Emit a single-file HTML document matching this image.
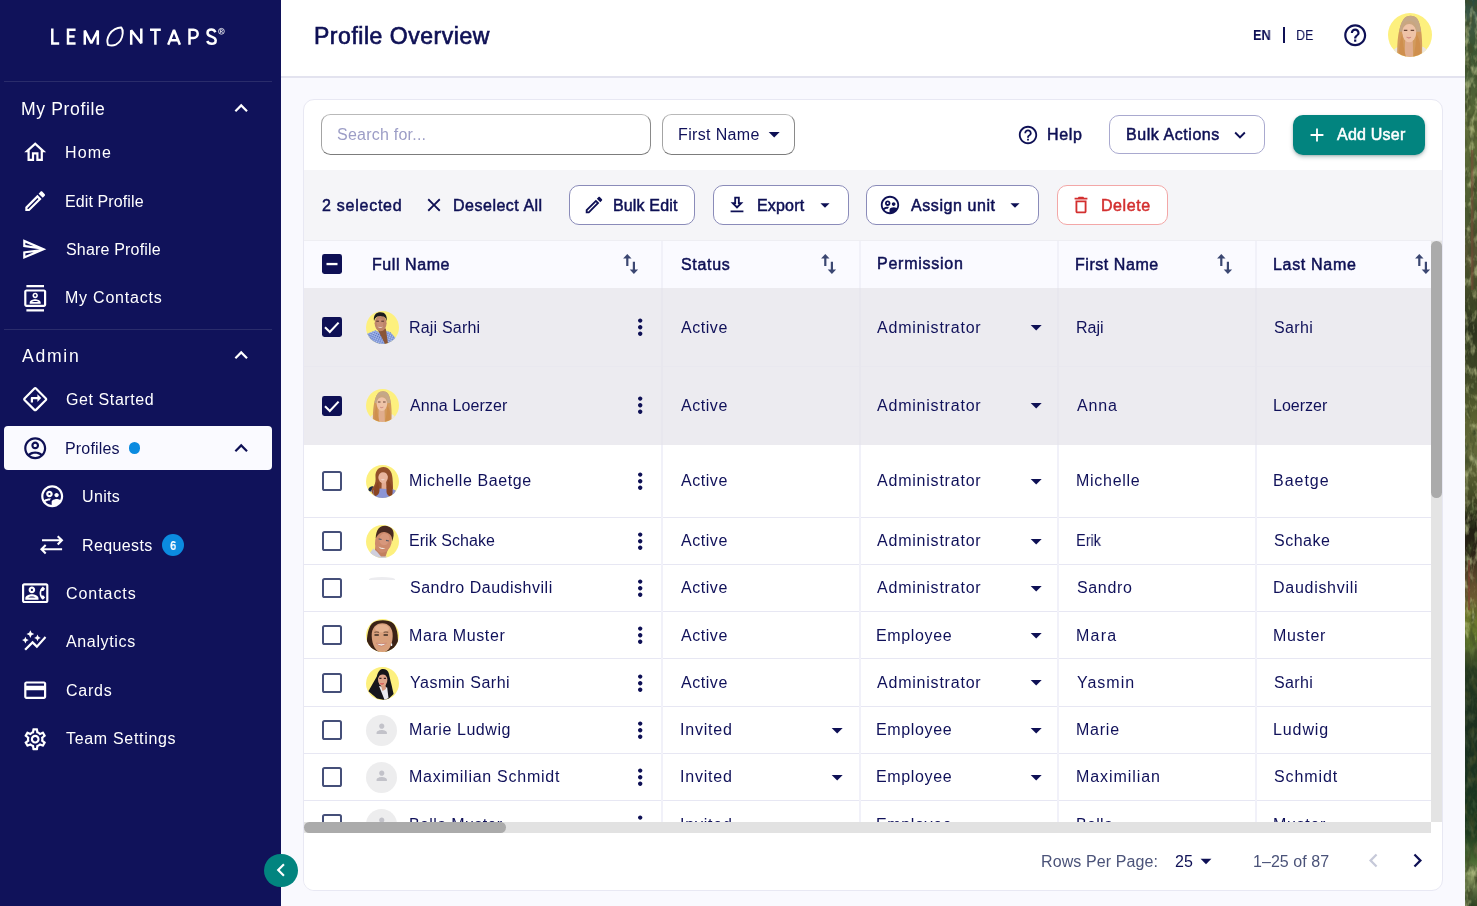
<!DOCTYPE html>
<html><head><meta charset="utf-8"><title>Profile Overview</title>
<style>
html,body{margin:0;padding:0;}
body{width:1477px;height:906px;overflow:hidden;position:relative;background:#f9f9fe;font-family:"Liberation Sans",sans-serif;}
.t{position:absolute;white-space:nowrap;line-height:24px;height:24px;will-change:transform;}
svg{display:block;overflow:visible}
</style></head><body>
<div style="position:absolute;left:281px;top:0px;width:1184px;height:76px;background:#fff;"></div>
<div style="position:absolute;left:281px;top:76px;width:1184px;height:2px;background:#e3e3ef;"></div>
<div style="position:absolute;left:303px;top:99px;width:1140px;height:791.5px;background:#fff;border:1px solid #e8e8f3;border-radius:11px;box-sizing:border-box;"></div>
<div style="position:absolute;left:304px;top:170px;width:1138px;height:70px;background:#f5f5f8;"></div>
<div style="position:absolute;left:304px;top:240px;width:1138px;height:1.2px;background:#eeeef3;"></div>
<div style="position:absolute;left:304px;top:241.2px;width:1126.5px;height:46.8px;background:#fafaff;"></div>
<div style="position:absolute;left:304px;top:288px;width:1127px;height:156.5px;background:#ecebf0;"></div>
<div style="position:absolute;left:304px;top:365.5px;width:1127px;height:1px;background:#e9e8ef;"></div>
<div style="position:absolute;left:304px;top:516.5px;width:1127px;height:1.2px;background:#e7e7f3;"></div>
<div style="position:absolute;left:304px;top:563.7px;width:1127px;height:1.2px;background:#e7e7f3;"></div>
<div style="position:absolute;left:304px;top:610.9px;width:1127px;height:1.2px;background:#e7e7f3;"></div>
<div style="position:absolute;left:304px;top:658.0px;width:1127px;height:1.2px;background:#e7e7f3;"></div>
<div style="position:absolute;left:304px;top:706.1px;width:1127px;height:1.2px;background:#e7e7f3;"></div>
<div style="position:absolute;left:304px;top:752.8px;width:1127px;height:1.2px;background:#e7e7f3;"></div>
<div style="position:absolute;left:304px;top:800.0px;width:1127px;height:1.2px;background:#e7e7f3;"></div>
<div style="position:absolute;left:660.7px;top:241px;width:2px;height:47px;background:#f1f1f9;"></div>
<div style="position:absolute;left:660.7px;top:288px;width:2px;height:156.5px;background:#e8e7ee;"></div>
<div style="position:absolute;left:660.7px;top:444.5px;width:2px;height:378px;background:#f1f1f9;"></div>
<div style="position:absolute;left:858.7px;top:241px;width:2px;height:47px;background:#f1f1f9;"></div>
<div style="position:absolute;left:858.7px;top:288px;width:2px;height:156.5px;background:#e8e7ee;"></div>
<div style="position:absolute;left:858.7px;top:444.5px;width:2px;height:378px;background:#f1f1f9;"></div>
<div style="position:absolute;left:1056.8999999999999px;top:241px;width:2px;height:47px;background:#f1f1f9;"></div>
<div style="position:absolute;left:1056.8999999999999px;top:288px;width:2px;height:156.5px;background:#e8e7ee;"></div>
<div style="position:absolute;left:1056.8999999999999px;top:444.5px;width:2px;height:378px;background:#f1f1f9;"></div>
<div style="position:absolute;left:1254.8999999999999px;top:241px;width:2px;height:47px;background:#f1f1f9;"></div>
<div style="position:absolute;left:1254.8999999999999px;top:288px;width:2px;height:156.5px;background:#e8e7ee;"></div>
<div style="position:absolute;left:1254.8999999999999px;top:444.5px;width:2px;height:378px;background:#f1f1f9;"></div>
<svg style="position:absolute;left:1465px;top:0" width="12" height="906" viewBox="0 0 12 906"><defs>
<linearGradient id="fg" x1="0" y1="0" x2="0" y2="1">
<stop offset="0" stop-color="#2c4a3c"/><stop offset=".02" stop-color="#3f5a48"/><stop offset=".05" stop-color="#3a5432"/><stop offset=".10" stop-color="#4c6036"/><stop offset=".14" stop-color="#5f6c38"/><stop offset=".19" stop-color="#566534"/><stop offset=".24" stop-color="#4a5830"/><stop offset=".28" stop-color="#565432"/><stop offset=".32" stop-color="#444c28"/><stop offset=".36" stop-color="#2a321c"/><stop offset=".41" stop-color="#3d4524"/><stop offset=".46" stop-color="#59602f"/><stop offset=".50" stop-color="#62683a"/><stop offset=".54" stop-color="#4c5229"/><stop offset=".58" stop-color="#201f12"/><stop offset=".61" stop-color="#2a2416"/><stop offset=".64" stop-color="#5e4a2c"/><stop offset=".66" stop-color="#6a5a30"/><stop offset=".68" stop-color="#6e7a2c"/><stop offset=".71" stop-color="#59702a"/><stop offset=".74" stop-color="#24381f"/><stop offset=".80" stop-color="#1c301f"/><stop offset=".86" stop-color="#1a3320"/><stop offset=".92" stop-color="#1d3a1e"/><stop offset=".95" stop-color="#4a6a32"/><stop offset=".97" stop-color="#80905a"/><stop offset="1" stop-color="#2a4020"/></linearGradient>
<filter id="fn" x="0" y="0" width="100%" height="100%"><feTurbulence type="fractalNoise" baseFrequency=".16 .07" numOctaves="3" seed="7"/><feColorMatrix type="matrix" values="0 0 0 0 .05  0 0 0 0 .07  0 0 0 0 .02  2.600 0 0 0 -1.150"/></filter>
<filter id="fl" x="0" y="0" width="100%" height="100%"><feTurbulence type="fractalNoise" baseFrequency=".2 .09" numOctaves="3" seed="3"/><feColorMatrix type="matrix" values="0 0 0 0 .78  0 0 0 0 .82  0 0 0 0 .42  0 3 0 0 -1.450"/></filter>
</defs><rect width="12" height="906" fill="url(#fg)"/><rect width="12" height="906" filter="url(#fn)"/><rect width="12" height="640" filter="url(#fl)" opacity=".48"/><rect y="640" width="12" height="225" filter="url(#fl)" opacity=".12"/><rect y="865" width="12" height="41" filter="url(#fl)" opacity=".5"/>
<rect x="6" y="150" width="2.500" height="140" fill="#7a4a38" opacity=".55"/><rect x="3" y="560" width="2" height="50" fill="#8a3a30" opacity=".5"/></svg>
<div style="position:absolute;left:0px;top:0px;width:281px;height:906px;background:#10125a;"></div>
<div style="position:absolute;left:4px;top:81px;width:268px;height:1px;background:#2a2c6b;"></div>
<div style="position:absolute;left:4px;top:328.5px;width:268px;height:1px;background:#2a2c6b;"></div>
<svg style="position:absolute;left:0;top:0" width="281" height="70" viewBox="0 0 281 70" fill="none" stroke="#fff" stroke-width="2.5" stroke-linejoin="miter">
<path d="M52.3 28.5V43.6H59.2"/>
<path d="M75.6 29.7H68V43.6H75.6M68 36.5H74.6"/>
<path d="M84.8 44.8V30.5L91.3 43.2L97.8 30.5V44.8" stroke-linejoin="bevel"/>
<path d="M121.3 27.5C117.5 27.3 112.200 29.800 109.500 34.300C107.300 38 106.900 42 108 44.800C110.200 45.600 113.500 45.700 115.800 44.600C119.500 42.600 122.300 38 122.700 33.500C122.900 31 122.500 28.800 121.300 27.500Z" stroke-width="1.900" stroke-linejoin="round"/>
<path d="M131.2 44.8V30.2L141.3 43.2V28.5" stroke-linejoin="bevel"/>
<path d="M150 29.7H160.8M155.4 29.7V44.8"/>
<path d="M168.2 44.8L174 30L179.9 44.8M170.4 40.3H177.6" stroke-linejoin="bevel"/>
<path d="M189.5 44.8V29.7H193.6A4.1 4.1 0 0 1 193.6 37.9H189.5"/>
<path d="M215.4 32.2C214.6 30.4 213.2 29.6 211.4 29.6C209 29.6 207.5 31 207.5 32.9C207.5 35.2 209.4 35.9 211.6 36.6C213.9 37.3 215.7 38.200 215.7 40.400C215.7 42.500 214 43.800 211.700 43.800C209.500 43.800 207.900 42.800 207.200 41"/>
<circle cx="221.400" cy="31.300" r="2.900" stroke-width=".8"/>
<path d="M220.400 33V29.700H221.600A.9.9 0 0 1 221.600 31.500H220.400M221.500 31.500L222.600 33" stroke-width=".7"/>
</svg>
<div style="position:absolute;left:4.2px;top:426.2px;width:267.8px;height:43.8px;background:#fafaff;border-radius:4px;"></div>
<svg style="position:absolute;left:21.50px;top:138.70px;" width="26.4" height="26.4" viewBox="0 0 24 24"><path fill="#ffffff" d="M12 5.69l5 4.5V18h-2v-6H9v6H7v-7.81l5-4.5M12 3L2 12h3v8h6v-6h2v6h6v-8h3L12 3z"/></svg>
<svg style="position:absolute;left:21.50px;top:187.50px;" width="26.4" height="26.4" viewBox="0 0 24 24"><path fill="#ffffff" d="M14.06 9.02l.92.92L5.92 19H5v-.92l9.06-9.06M17.66 3c-.25 0-.51.1-.7.29l-1.83 1.83 3.75 3.75 1.83-1.83c.39-.39.39-1.02 0-1.41l-2.34-2.34c-.2-.2-.45-.29-.71-.29zm-3.6 3.19L3 17.25V21h3.75L17.81 9.94l-3.75-3.75z"/></svg>
<svg style="position:absolute;left:21.00px;top:235.90px;" width="26.4" height="26.4" viewBox="0 0 24 24"><path fill="#ffffff" d="M4.01 6.03l7.51 3.22-7.52-1 .01-2.22m7.5 8.72L4 17.97v-2.22l7.51-1M2.01 3L2 10l15 2-15 2 .01 7L23 12 2.01 3z"/></svg>
<svg style="position:absolute;left:21.60px;top:284.90px;" width="26.4" height="26.4" viewBox="0 0 24 24"><path fill="#ffffff" d="M20 4H4c-1.1 0-2 .9-2 2v12c0 1.1.9 2 2 2h16c1.1 0 2-.9 2-2V6c0-1.1-.9-2-2-2zm0 14H4V6h16v12zM4 0h16v2H4zm0 22h16v2H4zm8-10c1.38 0 2.5-1.12 2.5-2.5S13.38 7 12 7 9.5 8.12 9.5 9.5 10.62 12 12 12zm0-3.5c.55 0 1 .45 1 1s-.45 1-1 1-1-.45-1-1 .45-1 1-1zm5 7.49C17 13.9 13.69 13 12 13s-5 .9-5 2.99V17h10v-1.01zm-8.19-.49c.61-.52 2.03-1 3.19-1 1.17 0 2.59.48 3.2 1H8.81z"/></svg>
<svg style="position:absolute;left:21.50px;top:386.30px;" width="26.4" height="26.4" viewBox="0 0 24 24"><path fill="#ffffff" d="M22.43 10.59l-9.01-9.01c-.75-.75-2.07-.76-2.83 0l-9 9c-.78.78-.78 2.04 0 2.82l9 9c.39.39.9.58 1.41.58.51 0 1.02-.19 1.41-.58l8.99-8.99c.79-.76.8-2.02.03-2.82zm-10.42 10.4l-9-9 9-9 9 9-9 9zM8 11v4h2v-3h4v2.5l3.5-3.5L14 7.5V10H9c-.55 0-1 .45-1 1z"/></svg>
<svg style="position:absolute;left:21.80px;top:434.80px;" width="26.4" height="26.4" viewBox="0 0 24 24"><path fill="#0e1055" d="M12 2C6.48 2 2 6.48 2 12s4.48 10 10 10 10-4.48 10-10S17.52 2 12 2zM7.35 18.5C8.66 17.56 10.26 17 12 17s3.34.56 4.65 1.5C15.34 19.44 13.74 20 12 20s-3.34-.56-4.65-1.5zm10.79-1.38C16.45 15.8 14.32 15 12 15s-4.45.8-6.14 2.12C4.7 15.73 4 13.95 4 12c0-4.42 3.58-8 8-8s8 3.58 8 8c0 1.95-.7 3.73-1.86 5.12zM12 6c-1.93 0-3.5 1.57-3.5 3.5S10.07 13 12 13s3.5-1.57 3.5-3.5S13.93 6 12 6zm0 5c-.83 0-1.5-.67-1.5-1.5S11.17 8 12 8s1.500.67 1.5 1.5S12.83 11 12 11z"/></svg>
<svg style="position:absolute;left:38.90px;top:483.40px;" width="26.4" height="26.4" viewBox="0 0 24 24"><path fill="#ffffff" d="M12.5 10c0-1.65-1.35-3-3-3s-3 1.35-3 3 1.35 3 3 3 3-1.35 3-3zm-3 1c-.55 0-1-.45-1-1s.45-1 1-1 1 .45 1 1-.45 1-1 1zm6.5 2c1.11 0 2-.89 2-2 0-1.11-.89-2-2-2-1.11 0-2.010.89-2 2 0 1.11.89 2 2 2zM11.99 2.010c-5.52 0-10 4.48-10 10s4.48 10 10 10 10-4.48 10-10-4.48-10-10-10zM5.84 17.120c.68-.54 2.27-1.11 3.66-1.11.07 0 .15.010.23.010.24-.64.67-1.29 1.3-1.86-.56-.1-1.09-.16-1.53-.16-1.3 0-3.39.45-4.73 1.43-.5-1.04-.78-2.200-.78-3.430 0-4.410 3.59-8 8-8s8 3.59 8 8c0 1.200-.27 2.340-.75 3.370-1-.59-2.360-.87-3.240-.87-1.520 0-4.500.81-4.500 2.700v2.780c-2.270-.13-4.290-1.210-5.660-2.860z"/></svg>
<svg style="position:absolute;left:36px;top:528px" width="32" height="32" viewBox="0 0 32 32" fill="none" stroke="#fff" stroke-width="2.100"><path d="M6 12.200H25.800M21.700 8.200L25.900 12.300L21.700 16.500M26.100 21.200H7M9.700 17.100L5.500 21.200L9.700 25.400"/></svg>
<svg style="position:absolute;left:21.50px;top:579.80px;" width="26.4" height="26.4" viewBox="0 0 24 24"><path fill="#ffffff" d="M22 3H2C.9 3 0 3.9 0 5v14c0 1.1.9 2 2 2h20c1.1 0 1.990-.9 1.990-2L24 5c0-1.1-.9-2-2-2zm0 16H2V5h20v14zm-2.990-1.010L21 16l-1.510-2h-1.640c-.22-.63-.35-1.300-.35-2s.13-1.370.35-2h1.640L21 8l-1.990-1.990c-1.310.98-2.280 2.370-2.730 3.990-.18.64-.28 1.310-.28 2s.1 1.360.28 2c.45 1.610 1.420 3.010 2.730 3.990zM9 12c1.650 0 3-1.350 3-3s-1.350-3-3-3-3 1.350-3 3 1.350 3 3 3zm0-4c.55 0 1 .45 1 1s-.45 1-1 1-1-.45-1-1 .45-1 1-1zm6 8.590c0-2.500-3.970-3.580-6-3.580s-6 1.080-6 3.580V18h12v-1.410zM5.480 16c.74-.5 2.220-1 3.520-1s2.770.49 3.520 1H5.480z"/></svg>
<svg style="position:absolute;left:21.10px;top:628.40px;" width="26.4" height="26.4" viewBox="0 0 24 24"><path fill="#ffffff" d="M14.06 9.94L12 9l2.060-.94L15 6l.94 2.060L18 9l-2.060.94L15 12l-.94-2.060zM4 14l.94-2.060L7 11l-2.060-.94L4 8l-.94 2.060L1 11l2.060.94L4 14zm4.500-5l1.090-2.410L12 5.500 9.590 4.410 8.500 2 7.410 4.410 5 5.500l2.410 1.090L8.500 9zm-4 11.500l6-6.010 4 4L23 8.930l-1.410-1.410-7.090 7.970-4-4L3 19l1.500 1.500z"/></svg>
<svg style="position:absolute;left:21.60px;top:676.80px;" width="26.4" height="26.4" viewBox="0 0 24 24"><path fill="#ffffff" d="M20 4H4c-1.110 0-1.990.89-1.990 2L2 18c0 1.110.89 2 2 2h16c1.110 0 2-.89 2-2V6c0-1.110-.89-2-2-2zm0 14H4v-6h16v6zm0-10H4V6h16v2z"/></svg>
<svg style="position:absolute;left:21.50px;top:726.10px;" width="26.4" height="26.4" viewBox="0 0 24 24"><path fill="#ffffff" d="M19.43 12.98c.04-.32.07-.64.07-.98 0-.34-.03-.66-.07-.98l2.110-1.650c.19-.15.24-.42.12-.64l-2-3.460c-.09-.16-.26-.25-.44-.25-.06 0-.12.010-.17.030l-2.490 1c-.52-.4-1.080-.73-1.690-.98l-.38-2.650C14.460 2.180 14.250 2 14 2h-4c-.25 0-.46.18-.49.420l-.38 2.650c-.61.25-1.170.59-1.690.98l-2.490-1c-.06-.02-.12-.03-.18-.03-.17 0-.34.09-.43.250l-2 3.460c-.13.22-.07.49.12.640l2.110 1.650c-.04.32-.07.650-.07.980 0 .33.03.66.07.980l-2.110 1.650c-.19.15-.24.42-.12.640l2 3.460c.09.16.26.250.44.250.06 0 .12-.010.17-.030l2.490-1c.52.4 1.080.73 1.690.98l.38 2.650c.03.240.24.420.49.420h4c.25 0 .46-.18.490-.420l.38-2.650c.61-.25 1.170-.59 1.690-.98l2.490 1c.06.02.12.030.18.030.17 0 .34-.09.430-.250l2-3.460c.12-.22.07-.49-.12-.640l-2.110-1.650zm-1.980-1.710c.04.31.05.520.05.730 0 .21-.02.430-.05.730l-.14 1.130.89.700 1.080.84-.7 1.210-1.270-.51-1.040-.42-.9.680c-.43.32-.84.56-1.250.73l-1.060.43-.16 1.130-.2 1.350h-1.400l-.19-1.350-.16-1.130-1.060-.43c-.43-.18-.83-.41-1.230-.71l-.91-.7-1.060.43-1.270.51-.7-1.210 1.080-.84.89-.7-.14-1.130c-.03-.31-.05-.54-.05-.74s.02-.43.05-.73l.14-1.130-.89-.7-1.080-.84.7-1.210 1.270.51 1.040.42.900-.68c.43-.32.84-.56 1.250-.73l1.060-.43.16-1.130.2-1.350h1.390l.19 1.350.16 1.130 1.060.43c.43.18.83.41 1.230.71l.91.7 1.060-.43 1.270-.51.7 1.210-1.070.85-.89.700.14 1.130zM12 8c-2.210 0-4 1.790-4 4s1.790 4 4 4 4-1.790 4-4-1.790-4-4-4zm0 6c-1.100 0-2-.9-2-2s.9-2 2-2 2 .9 2 2-.9 2-2 2z"/></svg>
<svg style="position:absolute;left:228.10px;top:95.00px;" width="26.4" height="26.4" viewBox="0 0 24 24"><path fill="#ffffff" d="M12 8l-6 6 1.41 1.41L12 10.83l4.59 4.58L18 14z"/></svg>
<svg style="position:absolute;left:228.10px;top:342.20px;" width="26.4" height="26.4" viewBox="0 0 24 24"><path fill="#ffffff" d="M12 8l-6 6 1.41 1.41L12 10.83l4.59 4.58L18 14z"/></svg>
<svg style="position:absolute;left:228.10px;top:434.80px;" width="26.4" height="26.4" viewBox="0 0 24 24"><path fill="#0e1055" d="M12 8l-6 6 1.41 1.41L12 10.83l4.59 4.58L18 14z"/></svg>
<div style="position:absolute;left:128.9px;top:442.2px;width:11.4px;height:11.4px;background:#0b8be0;border-radius:50%;"></div>
<div style="position:absolute;left:162.1px;top:534px;width:22px;height:22px;background:#0b8be0;border-radius:50%;"></div>
<div style="position:absolute;left:264.2px;top:853.6px;width:33.6px;height:33.6px;background:#02847f;border-radius:50%;z-index:6;"></div>
<svg style="position:absolute;left:267.60px;top:857.00px;z-index:7;" width="26" height="26" viewBox="0 0 24 24"><path fill="#ffffff" d="M15.41 7.41L14 6l-6 6 6 6 1.410-1.410L10.830 12z"/></svg>
<div style="position:absolute;left:1283px;top:27px;width:1.6px;height:15.5px;background:#0e1055;"></div>
<svg style="position:absolute;left:1342.10px;top:21.80px;" width="26.4" height="26.4" viewBox="0 0 24 24"><path fill="#0e1055" d="M11 18h2v-2h-2v2zm1-16C6.48 2 2 6.48 2 12s4.480 10 10 10 10-4.480 10-10S17.520 2 12 2zm0 18c-4.410 0-8-3.590-8-8s3.590-8 8-8 8 3.590 8 8-3.590 8-8 8zm0-14c-2.210 0-4 1.790-4 4h2c0-1.100.9-2 2-2s2 .9 2 2c0 2-3 1.750-3 5h2c0-2.250 3-2.500 3-5 0-2.210-1.790-4-4-4z"/></svg>
<svg style="position:absolute;left:1388px;top:13.4px" width="44" height="44" viewBox="0 0 33 33"><defs><clipPath id="cab"><circle cx="16.500" cy="16.500" r="16.500"/></clipPath><filter id="bab" x="-10%" y="-10%" width="120%" height="120%"><feGaussianBlur stdDeviation=".420"/></filter><pattern id="chk" width="2.400" height="2.400" patternUnits="userSpaceOnUse" patternTransform="rotate(28)"><rect width="2.400" height="2.400" fill="#b4c5f0"/><rect width="1.200" height="1.200" fill="#4f68bb"/><rect x="1.200" y="1.200" width="1.200" height="1.200" fill="#6f88d2"/></pattern></defs><g clip-path="url(#cab)"><rect width="33" height="33" fill="#fdf07e"/><g filter="url(#bab)">
<path d="M2 33C3 28 6 25.500 9 25L24.500 25C28 25.500 30.500 28 31 33Z" fill="#ece6df"/>
<path d="M7 33C6.500 22 8 9 11.800 4.500C14 1.500 19.500 1.300 21.800 4.200C25.500 9 26 22 25.500 33Z" fill="#d29a5c"/>
<path d="M11.800 4.500C14 1.500 19.500 1.300 21.800 4.200C23.500 6.500 24.300 10 24.700 14L8.500 14C9 10 10 6.800 11.800 4.500Z" fill="#c5a888"/>
<path d="M12.800 20L18.600 20L18.800 33L12.500 33Z" fill="#e0ad8e"/>
<ellipse cx="15.900" cy="14.200" rx="5.300" ry="7.700" fill="#eec3a7"/>
<path d="M10.300 14.500C10 8.500 12.500 5.800 15.900 5.800C19.300 5.800 21.800 8.500 21.500 14.500C20.500 10.500 18.800 8.300 15.900 8.300C13 8.300 11.300 10.500 10.300 14.500Z" fill="#c9a680"/>
<path d="M8.500 33C8 26 9 20 10.800 15.500C11 22 12 28 13.500 33ZM24.500 33C25 26 24 20 21.300 15.500C21 22 20.300 28 19 33Z" fill="#cf8f4e"/>
<path d="M11.900 13H14.500M17 13H19.600" stroke="#6a4536" stroke-width="1"/>
<path d="M14 18.200Q15.700 19.600 17.300 18.200Q15.700 18.800 14 18.200Z" fill="#cf8880" stroke="#cf8880" stroke-width=".5"/></g></g></svg>
<div style="position:absolute;left:321.1px;top:114.1px;width:330.4px;height:40.6px;box-sizing:border-box;border:1.400px solid;border-color:#b9b9b9 #8a8a8a #7c7c7c #a4a4a4;border-radius:9.500px;background:#fff;"></div>
<div style="position:absolute;left:662.3px;top:114.1px;width:132.5px;height:40.6px;box-sizing:border-box;border:1.400px solid;border-color:#b9b9b9 #8a8a8a #7c7c7c #a4a4a4;border-radius:9.500px;background:#fff;"></div>
<svg style="position:absolute;left:760.80px;top:121.20px;" width="26.4" height="26.4" viewBox="0 0 24 24"><path fill="#0e1055" d="M7 10l5 5 5-5z"/></svg>
<svg style="position:absolute;left:1017.10px;top:123.60px;" width="22" height="22" viewBox="0 0 24 24"><path fill="#0e1055" d="M11 18h2v-2h-2v2zm1-16C6.48 2 2 6.48 2 12s4.480 10 10 10 10-4.480 10-10S17.520 2 12 2zm0 18c-4.410 0-8-3.590-8-8s3.590-8 8-8 8 3.590 8 8-3.590 8-8 8zm0-14c-2.210 0-4 1.790-4 4h2c0-1.100.9-2 2-2s2 .9 2 2c0 2-3 1.750-3 5h2c0-2.250 3-2.500 3-5 0-2.210-1.790-4-4-4z"/></svg>
<div style="position:absolute;left:1108.9px;top:114.7px;width:155.7px;height:39.8px;box-sizing:border-box;border:1.600px solid #a9a9cf;border-radius:10px;background:#fff;"></div>
<svg style="position:absolute;left:1229.20px;top:123.50px;" width="22" height="22" viewBox="0 0 24 24"><path fill="#0e1055" d="M16.59 8.59L12 13.17 7.41 8.59 6 10l6 6 6-6z"/></svg>
<div style="position:absolute;left:1293.2px;top:114.7px;width:131.4px;height:40px;background:#02847f;border-radius:10px;box-shadow:0 2px 4px rgba(0,60,60,.28),0 1px 2px rgba(0,0,0,.12);"></div>
<svg style="position:absolute;left:1306.20px;top:123.60px;" width="22" height="22" viewBox="0 0 24 24"><path fill="#ffffff" d="M19 13h-6v6h-2v-6H5v-2h6V5h2v6h6v2z"/></svg>
<svg style="position:absolute;left:422.60px;top:194.10px;" width="22" height="22" viewBox="0 0 24 24"><path fill="#0e1055" d="M19 6.41L17.59 5 12 10.590 6.410 5 5 6.410 10.590 12 5 17.590 6.410 19 12 13.410 17.590 19 19 17.590 13.410 12z"/></svg>
<div style="position:absolute;left:569.3px;top:185.2px;width:126.2px;height:39.5px;box-sizing:border-box;border:1.250px solid #8a8bb9;border-radius:10px;background:#fff;"></div>
<svg style="position:absolute;left:582.50px;top:194.10px;" width="22" height="22" viewBox="0 0 24 24"><path fill="#0e1055" d="M14.06 9.02l.92.92L5.92 19H5v-.92l9.06-9.06M17.66 3c-.25 0-.51.1-.7.29l-1.83 1.83 3.75 3.75 1.83-1.83c.39-.39.39-1.02 0-1.41l-2.34-2.34c-.2-.2-.45-.29-.71-.29zm-3.6 3.19L3 17.25V21h3.75L17.81 9.94l-3.75-3.75z"/></svg>
<div style="position:absolute;left:713px;top:185.2px;width:135.6px;height:39.5px;box-sizing:border-box;border:1.250px solid #8a8bb9;border-radius:10px;background:#fff;"></div>
<svg style="position:absolute;left:726.00px;top:193.80px;" width="22" height="22" viewBox="0 0 24 24"><path fill="#0e1055" d="M13 5v6h1.170L12 13.170 9.830 11H11V5h2m2-2H9v6H5l7 7 7-7h-4V3zm4 15H5v2h14v-2z"/></svg>
<svg style="position:absolute;left:813.50px;top:193.60px;" width="22" height="22" viewBox="0 0 24 24"><path fill="#0e1055" d="M7 10l5 5 5-5z"/></svg>
<div style="position:absolute;left:866px;top:185.2px;width:173.2px;height:39.5px;box-sizing:border-box;border:1.250px solid #8a8bb9;border-radius:10px;background:#fff;"></div>
<svg style="position:absolute;left:879.00px;top:194.00px;" width="22" height="22" viewBox="0 0 24 24"><path fill="#0e1055" d="M12.5 10c0-1.65-1.35-3-3-3s-3 1.35-3 3 1.35 3 3 3 3-1.35 3-3zm-3 1c-.55 0-1-.45-1-1s.45-1 1-1 1 .45 1 1-.45 1-1 1zm6.5 2c1.11 0 2-.89 2-2 0-1.11-.89-2-2-2-1.11 0-2.010.89-2 2 0 1.11.89 2 2 2zM11.99 2.010c-5.52 0-10 4.48-10 10s4.48 10 10 10 10-4.48 10-10-4.48-10-10-10zM5.84 17.120c.68-.54 2.27-1.11 3.66-1.11.07 0 .15.010.23.010.24-.64.67-1.29 1.3-1.86-.56-.1-1.09-.16-1.53-.16-1.3 0-3.39.45-4.73 1.43-.5-1.04-.78-2.200-.78-3.430 0-4.410 3.59-8 8-8s8 3.59 8 8c0 1.200-.27 2.340-.75 3.370-1-.59-2.360-.87-3.240-.87-1.520 0-4.500.81-4.500 2.700v2.780c-2.270-.13-4.290-1.210-5.660-2.860z"/></svg>
<svg style="position:absolute;left:1004.20px;top:193.60px;" width="22" height="22" viewBox="0 0 24 24"><path fill="#0e1055" d="M7 10l5 5 5-5z"/></svg>
<div style="position:absolute;left:1057px;top:185.3px;width:110.6px;height:39.4px;box-sizing:border-box;border:1px solid #f3a7a7;border-radius:10px;background:#fff;"></div>
<svg style="position:absolute;left:1070.00px;top:194.00px;" width="22" height="22" viewBox="0 0 24 24"><path fill="#d32f2f" d="M16 9v10H8V9h8m-1.500-6h-5l-1 1H5v2h14V4h-3.500l-1-1zM18 7H6v12c0 1.100.9 2 2 2h8c1.100 0 2-.9 2-2V7z"/></svg>
<svg style="position:absolute;left:321.7px;top:254px" width="20" height="20" viewBox="0 0 20 20"><rect width="20" height="20" rx="2.400" fill="#0e1055"/><rect x="4.500" y="8.900" width="11" height="2.300" fill="#fff"/></svg>
<svg style="position:absolute;left:622.6px;top:254px" width="16" height="20" viewBox="0 0 16 20" fill="#3b4772"><path d="M4.300 0L8.500 4.400H5.400V12H3.200V4.400H.1Z"/><path d="M10.900 20L6.700 15.600H9.800V7.800H12V15.600H15.100Z"/></svg>
<svg style="position:absolute;left:820.6px;top:254px" width="16" height="20" viewBox="0 0 16 20" fill="#3b4772"><path d="M4.300 0L8.500 4.400H5.400V12H3.200V4.400H.1Z"/><path d="M10.900 20L6.700 15.600H9.800V7.800H12V15.600H15.100Z"/></svg>
<svg style="position:absolute;left:1216.6px;top:254px" width="16" height="20" viewBox="0 0 16 20" fill="#3b4772"><path d="M4.300 0L8.500 4.400H5.400V12H3.200V4.400H.1Z"/><path d="M10.900 20L6.700 15.600H9.800V7.800H12V15.600H15.100Z"/></svg>
<svg style="position:absolute;left:1414.7px;top:254px" width="16" height="20" viewBox="0 0 16 20" fill="#3b4772"><path d="M4.300 0L8.500 4.400H5.400V12H3.200V4.400H.1Z"/><path d="M10.900 20L6.700 15.600H9.800V7.800H12V15.600H15.100Z"/></svg>
<svg style="position:absolute;left:321.7px;top:317.35px" width="20" height="20" viewBox="0 0 20 20"><rect width="20" height="20" rx="2.400" fill="#0e1055"/><path d="M3 10.300L7.800 15L16.600 5.600" stroke="#fff" stroke-width="2.100" fill="none"/></svg>
<svg style="position:absolute;left:365.7px;top:311.05px" width="33" height="33" viewBox="0 0 33 33"><defs><clipPath id="crj"><circle cx="16.500" cy="16.500" r="16.500"/></clipPath><filter id="brj" x="-10%" y="-10%" width="120%" height="120%"><feGaussianBlur stdDeviation=".420"/></filter><pattern id="chk" width="2.400" height="2.400" patternUnits="userSpaceOnUse" patternTransform="rotate(28)"><rect width="2.400" height="2.400" fill="#b4c5f0"/><rect width="1.200" height="1.200" fill="#4f68bb"/><rect x="1.200" y="1.200" width="1.200" height="1.200" fill="#6f88d2"/></pattern></defs><g clip-path="url(#crj)"><rect width="33" height="33" fill="#fdf07e"/><g filter="url(#brj)">
<path d="M0.500 23L9.500 19.300L14 22L20 19.800L24.500 21.200L30 27.500L28 34H2Z" fill="url(#chk)"/>
<path d="M11 17.500L19.800 17.500L22 33L19 33L15.500 26Z" fill="#8a5638"/>
<ellipse cx="14.600" cy="12.300" rx="6" ry="7.900" fill="#bd856b"/>
<ellipse cx="14" cy="12" rx="3.200" ry="4.500" fill="#cb9279" opacity=".7"/>
<path d="M8 10C7 3.500 10.800 1.200 14.600 1.300C18.800 1.400 21.300 4 20.800 10.500C20 6.800 18.500 5.300 14.600 5.100C11 5 9.200 6.500 8 10Z" fill="#1f1a1c"/>
<path d="M10.300 10.200H12.900M15.300 10.200H17.900" stroke="#4a2e28" stroke-width="1"/>
<path d="M11.300 15.600Q14.300 18.300 17.300 15.600Q14.300 16.700 11.300 15.600Z" fill="#f3ebe6"/></g></g></svg>
<svg style="position:absolute;left:626.90px;top:314.15px;" width="26.4" height="26.4" viewBox="0 0 24 24"><path fill="#0e1055" d="M12 8c1.100 0 2-.9 2-2s-.9-2-2-2-2 .9-2 2 .9 2 2 2zm0 2c-1.100 0-2 .9-2 2s.9 2 2 2 2-.9 2-2-.9-2-2-2zm0 6c-1.100 0-2 .9-2 2s.9 2 2 2 2-.9 2-2-.9-2-2-2z"/></svg>
<svg style="position:absolute;left:1022.90px;top:313.95px;" width="26.4" height="26.4" viewBox="0 0 24 24"><path fill="#0e1055" d="M7 10l5 5 5-5z"/></svg>
<svg style="position:absolute;left:321.7px;top:395.55px" width="20" height="20" viewBox="0 0 20 20"><rect width="20" height="20" rx="2.400" fill="#0e1055"/><path d="M3 10.300L7.800 15L16.600 5.600" stroke="#fff" stroke-width="2.100" fill="none"/></svg>
<svg style="position:absolute;left:365.7px;top:389.25px" width="33" height="33" viewBox="0 0 33 33"><defs><clipPath id="can"><circle cx="16.500" cy="16.500" r="16.500"/></clipPath><filter id="ban" x="-10%" y="-10%" width="120%" height="120%"><feGaussianBlur stdDeviation=".420"/></filter><pattern id="chk" width="2.400" height="2.400" patternUnits="userSpaceOnUse" patternTransform="rotate(28)"><rect width="2.400" height="2.400" fill="#b4c5f0"/><rect width="1.200" height="1.200" fill="#4f68bb"/><rect x="1.200" y="1.200" width="1.200" height="1.200" fill="#6f88d2"/></pattern></defs><g clip-path="url(#can)"><rect width="33" height="33" fill="#fdf07e"/><g filter="url(#ban)">
<path d="M2 33C3 28 6 25.500 9 25L24.500 25C28 25.500 30.500 28 31 33Z" fill="#ece6df"/>
<path d="M7 33C6.500 22 8 9 11.800 4.500C14 1.500 19.500 1.300 21.800 4.200C25.500 9 26 22 25.500 33Z" fill="#d29a5c"/>
<path d="M11.800 4.500C14 1.500 19.500 1.300 21.800 4.200C23.500 6.500 24.300 10 24.700 14L8.500 14C9 10 10 6.800 11.800 4.500Z" fill="#c5a888"/>
<path d="M12.800 20L18.600 20L18.800 33L12.500 33Z" fill="#e0ad8e"/>
<ellipse cx="15.900" cy="14.200" rx="5.300" ry="7.700" fill="#eec3a7"/>
<path d="M10.300 14.500C10 8.500 12.500 5.800 15.900 5.800C19.300 5.800 21.800 8.500 21.500 14.500C20.500 10.500 18.800 8.300 15.900 8.300C13 8.300 11.300 10.500 10.300 14.500Z" fill="#c9a680"/>
<path d="M8.500 33C8 26 9 20 10.800 15.500C11 22 12 28 13.500 33ZM24.500 33C25 26 24 20 21.300 15.500C21 22 20.300 28 19 33Z" fill="#cf8f4e"/>
<path d="M11.900 13H14.500M17 13H19.600" stroke="#6a4536" stroke-width="1"/>
<path d="M14 18.200Q15.700 19.600 17.300 18.200Q15.700 18.800 14 18.200Z" fill="#cf8880" stroke="#cf8880" stroke-width=".5"/></g></g></svg>
<svg style="position:absolute;left:626.90px;top:392.35px;" width="26.4" height="26.4" viewBox="0 0 24 24"><path fill="#0e1055" d="M12 8c1.100 0 2-.9 2-2s-.9-2-2-2-2 .9-2 2 .9 2 2 2zm0 2c-1.100 0-2 .9-2 2s.9 2 2 2 2-.9 2-2-.9-2-2-2zm0 6c-1.100 0-2 .9-2 2s.9 2 2 2 2-.9 2-2-.9-2-2-2z"/></svg>
<svg style="position:absolute;left:1022.90px;top:392.15px;" width="26.4" height="26.4" viewBox="0 0 24 24"><path fill="#0e1055" d="M7 10l5 5 5-5z"/></svg>
<div style="position:absolute;left:321.70px;top:470.95px;width:20.200px;height:20.200px;box-sizing:border-box;border:2.300px solid #454f79;border-radius:2.600px;"></div>
<svg style="position:absolute;left:365.7px;top:464.75px" width="33" height="33" viewBox="0 0 33 33"><defs><clipPath id="cmi"><circle cx="16.500" cy="16.500" r="16.500"/></clipPath><filter id="bmi" x="-10%" y="-10%" width="120%" height="120%"><feGaussianBlur stdDeviation=".420"/></filter><pattern id="chk" width="2.400" height="2.400" patternUnits="userSpaceOnUse" patternTransform="rotate(28)"><rect width="2.400" height="2.400" fill="#b4c5f0"/><rect width="1.200" height="1.200" fill="#4f68bb"/><rect x="1.200" y="1.200" width="1.200" height="1.200" fill="#6f88d2"/></pattern></defs><g clip-path="url(#cmi)"><rect width="33" height="33" fill="#fdf07e"/><g filter="url(#bmi)">
<path d="M2.200 26C2 23 4 21.200 7.300 21.200L7.500 27Z" fill="#1c2a4a"/>
<path d="M4.500 26.500L8 22L8 28Z" fill="#a9bbe6"/>
<path d="M9.500 12C9 6 12.500 2 17.500 2C22.500 2 26 6 26.500 13C27 19 27.500 26 26 31.500L8 30C4.500 28 5 23 8 21C9.500 18 9.800 15 9.500 12Z" fill="#93502c"/>
<path d="M7.300 25.500C12 22.500 25 22.500 29.800 25.500L29 33H8Z" fill="#8c95d5"/>
<path d="M15.700 17L20.100 17L20.500 24L15.500 23.800Z" fill="#e3ab92"/>
<ellipse cx="17.100" cy="11.900" rx="4.800" ry="6.300" fill="#e9b59c"/>
<path d="M12 12C11.500 7 14 4.500 17.500 4.500C20.500 4.500 22.500 7 22.300 12C21 8.500 19.800 7.200 17 7.200C14.500 7.200 13 9 12 12Z" fill="#93502c"/>
<path d="M9 31C6 27 9 21 12.300 16.500C12.500 21 14.500 24 13 28C12.500 29.500 11 31 9 31ZM25.500 31.500C28 27 26.500 20 22 14.500C22 19 20 22.500 20.500 27C20.800 29.500 22.500 31.500 25.500 31.500Z" fill="#8a4524"/>
<path d="M14.800 14.200Q16.800 16.400 18.900 14.200Q16.800 15 14.800 14.200Z" fill="#f5efec"/></g></g></svg>
<svg style="position:absolute;left:626.90px;top:467.85px;" width="26.4" height="26.4" viewBox="0 0 24 24"><path fill="#0e1055" d="M12 8c1.100 0 2-.9 2-2s-.9-2-2-2-2 .9-2 2 .9 2 2 2zm0 2c-1.100 0-2 .9-2 2s.9 2 2 2 2-.9 2-2-.9-2-2-2zm0 6c-1.100 0-2 .9-2 2s.9 2 2 2 2-.9 2-2-.9-2-2-2z"/></svg>
<svg style="position:absolute;left:1022.90px;top:467.65px;" width="26.4" height="26.4" viewBox="0 0 24 24"><path fill="#0e1055" d="M7 10l5 5 5-5z"/></svg>
<div style="position:absolute;left:321.70px;top:530.85px;width:20.200px;height:20.200px;box-sizing:border-box;border:2.300px solid #454f79;border-radius:2.600px;"></div>
<svg style="position:absolute;left:365.7px;top:524.6500000000001px" width="33" height="33" viewBox="0 0 33 33"><defs><clipPath id="cer"><circle cx="16.500" cy="16.500" r="16.500"/></clipPath><filter id="ber" x="-10%" y="-10%" width="120%" height="120%"><feGaussianBlur stdDeviation=".420"/></filter><pattern id="chk" width="2.400" height="2.400" patternUnits="userSpaceOnUse" patternTransform="rotate(28)"><rect width="2.400" height="2.400" fill="#b4c5f0"/><rect width="1.200" height="1.200" fill="#4f68bb"/><rect x="1.200" y="1.200" width="1.200" height="1.200" fill="#6f88d2"/></pattern></defs><g clip-path="url(#cer)"><rect width="33" height="33" fill="#fdf07e"/><g filter="url(#ber)">
<g transform="rotate(12 17 16)">
<path d="M10.500 20L24 20L22.500 33L11.500 33Z" fill="#c2805f"/>
<ellipse cx="17.500" cy="16.500" rx="8.300" ry="11.300" fill="#cd8a6c"/>
<ellipse cx="18" cy="14" rx="5" ry="6" fill="#d99a80" opacity=".8"/>
<path d="M9.300 15C7.500 5 11.500 0.500 17.800 0.500C24 0.500 27.500 5 26 14.500C25 9.500 22.500 6.800 17.800 6.800C13 6.800 10.800 9.500 9.300 15Z" fill="#4a2c20"/>
<path d="M12.300 14.800H15.300M19.800 14.800H22.800" stroke="#5a5a66" stroke-width="1.100"/>
<path d="M13.700 22.300Q17.300 25.800 20.800 22.300Q17.300 23.600 13.700 22.300Z" fill="#f4ece8"/>
</g>
<path d="M3.500 28.500L7.300 23.500L11 26.800L15 31.600L21.500 31.600L18 34L5 33Z" fill="#cfcfdd"/></g></g></svg>
<svg style="position:absolute;left:626.90px;top:527.75px;" width="26.4" height="26.4" viewBox="0 0 24 24"><path fill="#0e1055" d="M12 8c1.100 0 2-.9 2-2s-.9-2-2-2-2 .9-2 2 .9 2 2 2zm0 2c-1.100 0-2 .9-2 2s.9 2 2 2 2-.9 2-2-.9-2-2-2zm0 6c-1.100 0-2 .9-2 2s.9 2 2 2 2-.9 2-2-.9-2-2-2z"/></svg>
<svg style="position:absolute;left:1022.90px;top:527.55px;" width="26.4" height="26.4" viewBox="0 0 24 24"><path fill="#0e1055" d="M7 10l5 5 5-5z"/></svg>
<div style="position:absolute;left:321.70px;top:578.05px;width:20.200px;height:20.200px;box-sizing:border-box;border:2.300px solid #454f79;border-radius:2.600px;"></div>
<div style="position:absolute;left:368.6px;top:577.35px;width:26.800px;height:2.300px;background:#ececef;border-radius:50% 50% 0 0 / 100% 100% 0 0"></div>
<svg style="position:absolute;left:626.90px;top:574.95px;" width="26.4" height="26.4" viewBox="0 0 24 24"><path fill="#0e1055" d="M12 8c1.100 0 2-.9 2-2s-.9-2-2-2-2 .9-2 2 .9 2 2 2zm0 2c-1.100 0-2 .9-2 2s.9 2 2 2 2-.9 2-2-.9-2-2-2zm0 6c-1.100 0-2 .9-2 2s.9 2 2 2 2-.9 2-2-.9-2-2-2z"/></svg>
<svg style="position:absolute;left:1022.90px;top:574.75px;" width="26.4" height="26.4" viewBox="0 0 24 24"><path fill="#0e1055" d="M7 10l5 5 5-5z"/></svg>
<div style="position:absolute;left:321.70px;top:625.25px;width:20.200px;height:20.200px;box-sizing:border-box;border:2.300px solid #454f79;border-radius:2.600px;"></div>
<svg style="position:absolute;left:365.7px;top:619.0500000000001px" width="33" height="33" viewBox="0 0 33 33"><defs><clipPath id="cma"><circle cx="16.500" cy="16.500" r="16.500"/></clipPath><filter id="bma" x="-10%" y="-10%" width="120%" height="120%"><feGaussianBlur stdDeviation=".420"/></filter><pattern id="chk" width="2.400" height="2.400" patternUnits="userSpaceOnUse" patternTransform="rotate(28)"><rect width="2.400" height="2.400" fill="#b4c5f0"/><rect width="1.200" height="1.200" fill="#4f68bb"/><rect x="1.200" y="1.200" width="1.200" height="1.200" fill="#6f88d2"/></pattern></defs><g clip-path="url(#cma)"><rect width="33" height="33" fill="#fdf07e"/><g filter="url(#bma)">
<path d="M1.500 33C0 22 1 10 6 4.500C10 0.500 22 0 27 4C32 8.500 33 22 31 33Z" fill="#3a2418"/>
<path d="M5.700 17C5.500 9 10 4.300 16.300 4.300C22.500 4.300 26.900 9 26.700 17C26.500 26 22.500 33.500 16.300 33.500C10 33.500 6 26 5.700 17Z" fill="#d9a07c"/>
<ellipse cx="16" cy="9.500" rx="7" ry="4" fill="#e8b896" opacity=".8"/>
<path d="M8.400 13.300Q10.700 12.600 13 13.300M17.600 13.300Q19.900 12.600 22.200 13.300" stroke="#4a2e22" stroke-width=".8" fill="none"/>
<path d="M8.500 15.900H12.800M17.600 15.900H21.900" stroke="#3a2822" stroke-width="1.500"/>
<path d="M10.300 24.200Q15.400 25.200 20.400 24.200Q15.400 30 10.300 24.200Z" fill="#f1ebe6" stroke="#c47a6c" stroke-width=".7"/>
<rect x="25" y="24.300" width="1.200" height="2.800" rx=".6" fill="#f2f2f2"/></g></g></svg>
<svg style="position:absolute;left:626.90px;top:622.15px;" width="26.4" height="26.4" viewBox="0 0 24 24"><path fill="#0e1055" d="M12 8c1.100 0 2-.9 2-2s-.9-2-2-2-2 .9-2 2 .9 2 2 2zm0 2c-1.100 0-2 .9-2 2s.9 2 2 2 2-.9 2-2-.9-2-2-2zm0 6c-1.100 0-2 .9-2 2s.9 2 2 2 2-.9 2-2-.9-2-2-2z"/></svg>
<svg style="position:absolute;left:1022.90px;top:621.95px;" width="26.4" height="26.4" viewBox="0 0 24 24"><path fill="#0e1055" d="M7 10l5 5 5-5z"/></svg>
<div style="position:absolute;left:321.70px;top:672.75px;width:20.200px;height:20.200px;box-sizing:border-box;border:2.300px solid #454f79;border-radius:2.600px;"></div>
<svg style="position:absolute;left:365.7px;top:666.5500000000001px" width="33" height="33" viewBox="0 0 33 33"><defs><clipPath id="cya"><circle cx="16.500" cy="16.500" r="16.500"/></clipPath><filter id="bya" x="-10%" y="-10%" width="120%" height="120%"><feGaussianBlur stdDeviation=".420"/></filter><pattern id="chk" width="2.400" height="2.400" patternUnits="userSpaceOnUse" patternTransform="rotate(28)"><rect width="2.400" height="2.400" fill="#b4c5f0"/><rect width="1.200" height="1.200" fill="#4f68bb"/><rect x="1.200" y="1.200" width="1.200" height="1.200" fill="#6f88d2"/></pattern></defs><g clip-path="url(#cya)"><rect width="33" height="33" fill="#fdf07e"/><g filter="url(#bya)">
<path d="M17 2C20 2 22.300 3.700 23 7C24 12 25.500 17 27.600 27L23 31.500L18.500 33L11 31.500L2.400 24.300L10.800 9.500C12 4.500 14 2 17 2Z" fill="#17151a"/>
<path d="M13 19L21.200 20.500L22.500 31L18.600 33Z" fill="#ebebf0"/>
<path d="M14.500 17L19.500 17L20 22L16.500 24Z" fill="#d89c82"/>
<ellipse cx="16.700" cy="12.600" rx="4.700" ry="6.700" fill="#dfa58a"/>
<path d="M11.700 12C11.500 7 13.800 4.800 16.800 4.800C19.800 4.800 21.800 7 21.600 12C20.600 8.800 19.300 7.500 16.800 7.500C14.200 7.500 12.700 8.800 11.700 12Z" fill="#17151a"/>
<path d="M13.300 11.400H15.500M17.800 11.400H20" stroke="#3a2626" stroke-width="1.100"/>
<path d="M14.300 16.600Q16.100 17.900 17.900 16.600Q16.100 17 14.300 16.600Z" fill="#d85a58" stroke="#d85a58" stroke-width=".8"/></g></g></svg>
<svg style="position:absolute;left:626.90px;top:669.65px;" width="26.4" height="26.4" viewBox="0 0 24 24"><path fill="#0e1055" d="M12 8c1.100 0 2-.9 2-2s-.9-2-2-2-2 .9-2 2 .9 2 2 2zm0 2c-1.100 0-2 .9-2 2s.9 2 2 2 2-.9 2-2-.9-2-2-2zm0 6c-1.100 0-2 .9-2 2s.9 2 2 2 2-.9 2-2-.9-2-2-2z"/></svg>
<svg style="position:absolute;left:1022.90px;top:669.45px;" width="26.4" height="26.4" viewBox="0 0 24 24"><path fill="#0e1055" d="M7 10l5 5 5-5z"/></svg>
<div style="position:absolute;left:321.70px;top:720.10px;width:20.200px;height:20.200px;box-sizing:border-box;border:2.300px solid #454f79;border-radius:2.600px;"></div>
<div style="position:absolute;left:365.9px;top:714.7px;width:31px;height:31px;background:#ededee;border-radius:50%;"></div>
<svg style="position:absolute;left:373.75px;top:720.95px;" width="15.5" height="15.5" viewBox="0 0 24 24"><path fill="#c2c2c9" d="M12 12c2.210 0 4-1.790 4-4s-1.790-4-4-4-4 1.790-4 4 1.790 4 4 4zm0 2c-2.670 0-8 1.340-8 4v2h16v-2c0-2.660-5.330-4-8-4z"/></svg>
<svg style="position:absolute;left:626.90px;top:717.00px;" width="26.4" height="26.4" viewBox="0 0 24 24"><path fill="#0e1055" d="M12 8c1.100 0 2-.9 2-2s-.9-2-2-2-2 .9-2 2 .9 2 2 2zm0 2c-1.100 0-2 .9-2 2s.9 2 2 2 2-.9 2-2-.9-2-2-2zm0 6c-1.100 0-2 .9-2 2s.9 2 2 2 2-.9 2-2-.9-2-2-2z"/></svg>
<svg style="position:absolute;left:824.40px;top:716.80px;" width="26.4" height="26.4" viewBox="0 0 24 24"><path fill="#0e1055" d="M7 10l5 5 5-5z"/></svg>
<svg style="position:absolute;left:1022.90px;top:716.80px;" width="26.4" height="26.4" viewBox="0 0 24 24"><path fill="#0e1055" d="M7 10l5 5 5-5z"/></svg>
<div style="position:absolute;left:321.70px;top:767.15px;width:20.200px;height:20.200px;box-sizing:border-box;border:2.300px solid #454f79;border-radius:2.600px;"></div>
<div style="position:absolute;left:365.9px;top:761.75px;width:31px;height:31px;background:#ededee;border-radius:50%;"></div>
<svg style="position:absolute;left:373.75px;top:768.00px;" width="15.5" height="15.5" viewBox="0 0 24 24"><path fill="#c2c2c9" d="M12 12c2.210 0 4-1.790 4-4s-1.790-4-4-4-4 1.790-4 4 1.790 4 4 4zm0 2c-2.670 0-8 1.340-8 4v2h16v-2c0-2.660-5.330-4-8-4z"/></svg>
<svg style="position:absolute;left:626.90px;top:764.05px;" width="26.4" height="26.4" viewBox="0 0 24 24"><path fill="#0e1055" d="M12 8c1.100 0 2-.9 2-2s-.9-2-2-2-2 .9-2 2 .9 2 2 2zm0 2c-1.100 0-2 .9-2 2s.9 2 2 2 2-.9 2-2-.9-2-2-2zm0 6c-1.100 0-2 .9-2 2s.9 2 2 2 2-.9 2-2-.9-2-2-2z"/></svg>
<svg style="position:absolute;left:824.40px;top:763.85px;" width="26.4" height="26.4" viewBox="0 0 24 24"><path fill="#0e1055" d="M7 10l5 5 5-5z"/></svg>
<svg style="position:absolute;left:1022.90px;top:763.85px;" width="26.4" height="26.4" viewBox="0 0 24 24"><path fill="#0e1055" d="M7 10l5 5 5-5z"/></svg>
<div style="position:absolute;left:321.70px;top:814.30px;width:20.200px;height:20.200px;box-sizing:border-box;border:2.300px solid #454f79;border-radius:2.600px;"></div>
<div style="position:absolute;left:365.9px;top:808.9px;width:31px;height:31px;background:#ededee;border-radius:50%;"></div>
<svg style="position:absolute;left:373.75px;top:815.15px;" width="15.5" height="15.5" viewBox="0 0 24 24"><path fill="#c2c2c9" d="M12 12c2.210 0 4-1.790 4-4s-1.790-4-4-4-4 1.790-4 4 1.790 4 4 4zm0 2c-2.670 0-8 1.340-8 4v2h16v-2c0-2.660-5.330-4-8-4z"/></svg>
<svg style="position:absolute;left:626.90px;top:811.20px;" width="26.4" height="26.4" viewBox="0 0 24 24"><path fill="#0e1055" d="M12 8c1.100 0 2-.9 2-2s-.9-2-2-2-2 .9-2 2 .9 2 2 2zm0 2c-1.100 0-2 .9-2 2s.9 2 2 2 2-.9 2-2-.9-2-2-2zm0 6c-1.100 0-2 .9-2 2s.9 2 2 2 2-.9 2-2-.9-2-2-2z"/></svg>
<svg style="position:absolute;left:824.40px;top:811.00px;" width="26.4" height="26.4" viewBox="0 0 24 24"><path fill="#0e1055" d="M7 10l5 5 5-5z"/></svg>
<svg style="position:absolute;left:1022.90px;top:811.00px;" width="26.4" height="26.4" viewBox="0 0 24 24"><path fill="#0e1055" d="M7 10l5 5 5-5z"/></svg>
<div style="position:absolute;left:1431.1px;top:241px;width:10.9px;height:581px;background:#e4e4e4;z-index:5;"></div>
<div style="position:absolute;left:1431.1px;top:241.3px;width:10.8px;height:256.8px;background:#ababab;border-radius:5.400px;z-index:5;"></div>
<div style="position:absolute;left:304px;top:822px;width:1127px;height:67.5px;background:#fff;z-index:5;border-radius:0 0 0 10px;"></div>
<div style="position:absolute;left:1431px;top:822px;width:11px;height:58px;background:#fff;z-index:5;"></div>
<div style="position:absolute;left:304px;top:822px;width:1127px;height:10.8px;background:#e2e2e2;z-index:5;"></div>
<div style="position:absolute;left:304px;top:822px;width:201.5px;height:10.8px;background:#ababab;border-radius:5.400px;z-index:5;"></div>
<svg style="position:absolute;left:1193.40px;top:848.00px;z-index:6;" width="26" height="26" viewBox="0 0 24 24"><path fill="#0e1055" d="M7 10l5 5 5-5z"/></svg>
<svg style="position:absolute;left:1360.40px;top:847.20px;z-index:6;" width="27" height="27" viewBox="0 0 24 24"><path fill="#c6c9d9" d="M15.41 7.41L14 6l-6 6 6 6 1.410-1.410L10.830 12z"/></svg>
<svg style="position:absolute;left:1404.10px;top:847.20px;z-index:6;" width="27" height="27" viewBox="0 0 24 24"><path fill="#0e1055" d="M10 6L8.59 7.410 13.170 12l-4.580 4.590L10 18l6-6z"/></svg>
<div class="t" style="left:20.80px;top:97.00px;font-size:17.6px;color:#ffffff;letter-spacing:0.631px;">My Profile</div>
<div class="t" style="left:64.80px;top:141.10px;font-size:16px;color:#ffffff;letter-spacing:1.106px;">Home</div>
<div class="t" style="left:64.80px;top:189.50px;font-size:16px;color:#ffffff;letter-spacing:0.112px;">Edit Profile</div>
<div class="t" style="left:65.80px;top:237.80px;font-size:16px;color:#ffffff;letter-spacing:0.184px;">Share Profile</div>
<div class="t" style="left:64.80px;top:286.20px;font-size:16px;color:#ffffff;letter-spacing:0.779px;">My Contacts</div>
<div class="t" style="left:22.20px;top:344.20px;font-size:17.6px;color:#ffffff;letter-spacing:1.704px;">Admin</div>
<div class="t" style="left:65.80px;top:388.00px;font-size:16px;color:#ffffff;letter-spacing:0.588px;">Get Started</div>
<div class="t" style="left:64.80px;top:436.70px;font-size:16px;color:#0e1055;letter-spacing:0.178px;">Profiles</div>
<div class="t" style="left:82.40px;top:485.10px;font-size:16px;color:#ffffff;letter-spacing:0.337px;">Units</div>
<div class="t" style="left:82.40px;top:533.50px;font-size:16px;color:#ffffff;letter-spacing:0.372px;">Requests</div>
<div class="t" style="left:169.90px;top:534.00px;font-size:12.5px;color:#ffffff;letter-spacing:0.000px;transform-origin:0.00px 50%;transform:scaleX(0.9143);font-weight:bold;">6</div>
<div class="t" style="left:65.80px;top:582.20px;font-size:16px;color:#ffffff;letter-spacing:0.937px;">Contacts</div>
<div class="t" style="left:65.60px;top:630.10px;font-size:16px;color:#ffffff;letter-spacing:0.647px;">Analytics</div>
<div class="t" style="left:65.60px;top:678.50px;font-size:16px;color:#ffffff;letter-spacing:0.780px;">Cards</div>
<div class="t" style="left:65.60px;top:726.90px;font-size:16px;color:#ffffff;letter-spacing:0.685px;">Team Settings</div>
<div class="t" style="left:313.70px;top:24.00px;font-size:23px;color:#0e1055;letter-spacing:0.532px;-webkit-text-stroke:0.65px #0e1055;">Profile Overview</div>
<div class="t" style="left:1252.90px;top:23.00px;font-size:14px;color:#0e1055;letter-spacing:0.000px;transform-origin:0.00px 50%;transform:scaleX(0.9153);font-weight:bold;">EN</div>
<div class="t" style="left:1296.40px;top:23.00px;font-size:14px;color:#0e1055;letter-spacing:0.000px;transform-origin:1.00px 50%;transform:scaleX(0.8945);">DE</div>
<div class="t" style="left:337.30px;top:123.30px;font-size:16px;color:#9c9dc6;letter-spacing:0.232px;">Search for...</div>
<div class="t" style="left:677.50px;top:123.30px;font-size:16px;color:#10115a;letter-spacing:0.352px;">First Name</div>
<div class="t" style="left:1047.20px;top:123.40px;font-size:16px;color:#0e1055;letter-spacing:0.697px;-webkit-text-stroke:0.5px #0e1055;">Help</div>
<div class="t" style="left:1125.80px;top:123.40px;font-size:16px;color:#0e1055;letter-spacing:0.560px;-webkit-text-stroke:0.5px #0e1055;">Bulk Actions</div>
<div class="t" style="left:1337.40px;top:123.40px;font-size:16px;color:#ffffff;letter-spacing:0.219px;-webkit-text-stroke:0.5px #ffffff;">Add User</div>
<div class="t" style="left:321.60px;top:193.50px;font-size:16px;color:#0e1055;letter-spacing:0.740px;-webkit-text-stroke:0.5px #0e1055;">2 selected</div>
<div class="t" style="left:452.90px;top:193.50px;font-size:16px;color:#0e1055;letter-spacing:0.507px;-webkit-text-stroke:0.5px #0e1055;">Deselect All</div>
<div class="t" style="left:613.00px;top:193.60px;font-size:16px;color:#0e1055;letter-spacing:0.151px;-webkit-text-stroke:0.5px #0e1055;">Bulk Edit</div>
<div class="t" style="left:756.50px;top:193.60px;font-size:16px;color:#0e1055;letter-spacing:0.181px;-webkit-text-stroke:0.5px #0e1055;">Export</div>
<div class="t" style="left:910.50px;top:193.60px;font-size:16px;color:#0e1055;letter-spacing:0.568px;-webkit-text-stroke:0.5px #0e1055;">Assign unit</div>
<div class="t" style="left:1100.60px;top:193.60px;font-size:16px;color:#d32f2f;letter-spacing:0.570px;-webkit-text-stroke:0.5px #d32f2f;">Delete</div>
<div class="t" style="left:371.60px;top:252.80px;font-size:16px;color:#0e1055;letter-spacing:0.574px;-webkit-text-stroke:0.5px #0e1055;">Full Name</div>
<div class="t" style="left:680.60px;top:252.80px;font-size:16px;color:#0e1055;letter-spacing:0.668px;-webkit-text-stroke:0.5px #0e1055;">Status</div>
<div class="t" style="left:877.40px;top:252.40px;font-size:16px;color:#0e1055;letter-spacing:0.752px;-webkit-text-stroke:0.5px #0e1055;">Permission</div>
<div class="t" style="left:1075.30px;top:252.80px;font-size:16px;color:#0e1055;letter-spacing:0.552px;-webkit-text-stroke:0.5px #0e1055;">First Name</div>
<div class="t" style="left:1273.40px;top:252.80px;font-size:16px;color:#0e1055;letter-spacing:0.679px;-webkit-text-stroke:0.5px #0e1055;">Last Name</div>
<div class="t" style="left:409.00px;top:315.50px;font-size:16px;color:#10115a;letter-spacing:0.188px;">Raji Sarhi</div>
<div class="t" style="left:680.60px;top:315.50px;font-size:16px;color:#10115a;letter-spacing:0.546px;">Active</div>
<div class="t" style="left:876.50px;top:315.50px;font-size:16px;color:#10115a;letter-spacing:0.782px;">Administrator</div>
<div class="t" style="left:1075.50px;top:315.50px;font-size:16px;color:#10115a;letter-spacing:0.031px;">Raji</div>
<div class="t" style="left:1274.40px;top:315.50px;font-size:16px;color:#10115a;letter-spacing:0.376px;">Sarhi</div>
<div class="t" style="left:410.00px;top:393.70px;font-size:16px;color:#10115a;letter-spacing:0.115px;">Anna Loerzer</div>
<div class="t" style="left:680.60px;top:393.70px;font-size:16px;color:#10115a;letter-spacing:0.546px;">Active</div>
<div class="t" style="left:876.50px;top:393.70px;font-size:16px;color:#10115a;letter-spacing:0.782px;">Administrator</div>
<div class="t" style="left:1076.50px;top:393.70px;font-size:16px;color:#10115a;letter-spacing:0.844px;">Anna</div>
<div class="t" style="left:1273.40px;top:393.70px;font-size:16px;color:#10115a;letter-spacing:-0.004px;">Loerzer</div>
<div class="t" style="left:409.00px;top:469.20px;font-size:16px;color:#10115a;letter-spacing:0.597px;">Michelle Baetge</div>
<div class="t" style="left:680.60px;top:469.20px;font-size:16px;color:#10115a;letter-spacing:0.546px;">Active</div>
<div class="t" style="left:876.50px;top:469.20px;font-size:16px;color:#10115a;letter-spacing:0.782px;">Administrator</div>
<div class="t" style="left:1075.50px;top:469.20px;font-size:16px;color:#10115a;letter-spacing:0.716px;">Michelle</div>
<div class="t" style="left:1273.40px;top:469.20px;font-size:16px;color:#10115a;letter-spacing:0.977px;">Baetge</div>
<div class="t" style="left:409.00px;top:529.10px;font-size:16px;color:#10115a;letter-spacing:0.053px;">Erik Schake</div>
<div class="t" style="left:680.60px;top:529.10px;font-size:16px;color:#10115a;letter-spacing:0.546px;">Active</div>
<div class="t" style="left:876.50px;top:529.10px;font-size:16px;color:#10115a;letter-spacing:0.782px;">Administrator</div>
<div class="t" style="left:1075.50px;top:529.10px;font-size:16px;color:#10115a;letter-spacing:0.000px;transform-origin:1.00px 50%;transform:scaleX(0.9000);">Erik</div>
<div class="t" style="left:1274.40px;top:529.10px;font-size:16px;color:#10115a;letter-spacing:0.486px;">Schake</div>
<div class="t" style="left:410.00px;top:576.30px;font-size:16px;color:#10115a;letter-spacing:0.520px;">Sandro Daudishvili</div>
<div class="t" style="left:680.60px;top:576.30px;font-size:16px;color:#10115a;letter-spacing:0.546px;">Active</div>
<div class="t" style="left:876.50px;top:576.30px;font-size:16px;color:#10115a;letter-spacing:0.782px;">Administrator</div>
<div class="t" style="left:1076.50px;top:576.30px;font-size:16px;color:#10115a;letter-spacing:0.641px;">Sandro</div>
<div class="t" style="left:1273.40px;top:576.30px;font-size:16px;color:#10115a;letter-spacing:0.719px;">Daudishvili</div>
<div class="t" style="left:409.00px;top:623.50px;font-size:16px;color:#10115a;letter-spacing:0.593px;">Mara Muster</div>
<div class="t" style="left:680.60px;top:623.50px;font-size:16px;color:#10115a;letter-spacing:0.546px;">Active</div>
<div class="t" style="left:875.50px;top:623.50px;font-size:16px;color:#10115a;letter-spacing:0.650px;">Employee</div>
<div class="t" style="left:1075.50px;top:623.50px;font-size:16px;color:#10115a;letter-spacing:1.215px;">Mara</div>
<div class="t" style="left:1273.40px;top:623.50px;font-size:16px;color:#10115a;letter-spacing:0.686px;">Muster</div>
<div class="t" style="left:410.00px;top:671.00px;font-size:16px;color:#10115a;letter-spacing:0.518px;">Yasmin Sarhi</div>
<div class="t" style="left:680.60px;top:671.00px;font-size:16px;color:#10115a;letter-spacing:0.546px;">Active</div>
<div class="t" style="left:876.50px;top:671.00px;font-size:16px;color:#10115a;letter-spacing:0.782px;">Administrator</div>
<div class="t" style="left:1076.50px;top:671.00px;font-size:16px;color:#10115a;letter-spacing:0.987px;">Yasmin</div>
<div class="t" style="left:1274.40px;top:671.00px;font-size:16px;color:#10115a;letter-spacing:0.376px;">Sarhi</div>
<div class="t" style="left:409.00px;top:718.35px;font-size:16px;color:#10115a;letter-spacing:0.577px;">Marie Ludwig</div>
<div class="t" style="left:679.60px;top:718.35px;font-size:16px;color:#10115a;letter-spacing:0.793px;">Invited</div>
<div class="t" style="left:875.50px;top:718.35px;font-size:16px;color:#10115a;letter-spacing:0.650px;">Employee</div>
<div class="t" style="left:1075.50px;top:718.35px;font-size:16px;color:#10115a;letter-spacing:0.773px;">Marie</div>
<div class="t" style="left:1273.40px;top:718.35px;font-size:16px;color:#10115a;letter-spacing:0.899px;">Ludwig</div>
<div class="t" style="left:409.00px;top:765.40px;font-size:16px;color:#10115a;letter-spacing:0.737px;">Maximilian Schmidt</div>
<div class="t" style="left:679.60px;top:765.40px;font-size:16px;color:#10115a;letter-spacing:0.793px;">Invited</div>
<div class="t" style="left:875.50px;top:765.40px;font-size:16px;color:#10115a;letter-spacing:0.650px;">Employee</div>
<div class="t" style="left:1075.50px;top:765.40px;font-size:16px;color:#10115a;letter-spacing:0.925px;">Maximilian</div>
<div class="t" style="left:1274.40px;top:765.40px;font-size:16px;color:#10115a;letter-spacing:0.891px;">Schmidt</div>
<div class="t" style="left:409.00px;top:812.55px;font-size:16px;color:#10115a;letter-spacing:0.382px;">Bella Muster</div>
<div class="t" style="left:679.60px;top:812.55px;font-size:16px;color:#10115a;letter-spacing:0.793px;">Invited</div>
<div class="t" style="left:875.50px;top:812.55px;font-size:16px;color:#10115a;letter-spacing:0.650px;">Employee</div>
<div class="t" style="left:1075.50px;top:812.55px;font-size:16px;color:#10115a;letter-spacing:0.330px;">Bella</div>
<div class="t" style="left:1273.40px;top:812.55px;font-size:16px;color:#10115a;letter-spacing:0.686px;">Muster</div>
<div class="t" style="left:1041.30px;top:850.00px;font-size:16px;color:#4b5379;letter-spacing:0.103px;z-index:6;">Rows Per Page:</div>
<div class="t" style="left:1174.70px;top:850.00px;font-size:16px;color:#0e1055;letter-spacing:0.000px;transform-origin:0.00px 50%;transform:scaleX(0.9833);z-index:6;">25</div>
<div class="t" style="left:1253.20px;top:850.00px;font-size:16px;color:#4b5379;letter-spacing:0.053px;z-index:6;">1–25 of 87</div>
</body></html>
